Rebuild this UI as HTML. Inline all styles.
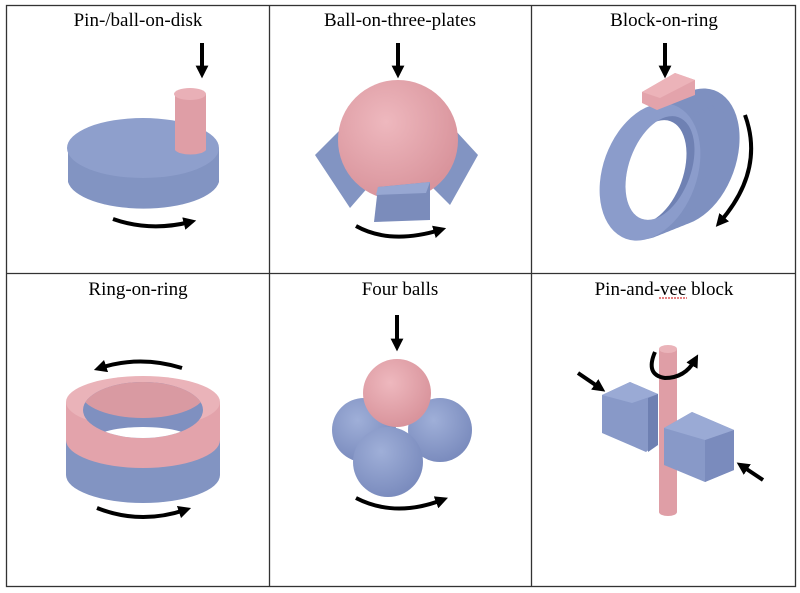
<!DOCTYPE html>
<html><head><style>
html,body{margin:0;padding:0;background:#fff;width:800px;height:593px;overflow:hidden}
svg text{font-family:"Liberation Serif",serif;font-size:19px;fill:#000}
</style></head><body>
<svg width="800" height="593" viewBox="0 0 800 593" xmlns="http://www.w3.org/2000/svg">
<defs>
<marker id="ah" viewBox="0 0 10 10" refX="5" refY="5" markerWidth="3.2" markerHeight="3.2" orient="auto"><path d="M0,0 L10,5 L0,10 z" fill="#000"/></marker>
<radialGradient id="pk" cx="40%" cy="35%" r="65%"><stop offset="0" stop-color="#eeb8be"/><stop offset="1" stop-color="#d9949c"/></radialGradient>
<radialGradient id="bl" cx="40%" cy="35%" r="65%"><stop offset="0" stop-color="#9fafd8"/><stop offset="1" stop-color="#7b8cbe"/></radialGradient>
<clipPath id="hole"><ellipse cx="143" cy="410" rx="60" ry="28"/></clipPath>
<clipPath id="fh"><ellipse cx="660" cy="168" rx="31" ry="54" transform="rotate(20 660 168)"/></clipPath>
</defs>
<rect x="6.5" y="5.5" width="789" height="581" fill="none" stroke="#333" stroke-width="1.3"/>
<line x1="269.5" y1="5" x2="269.5" y2="587" stroke="#333" stroke-width="1.3"/>
<line x1="531.5" y1="5" x2="531.5" y2="587" stroke="#333" stroke-width="1.3"/>
<line x1="6" y1="273.5" x2="796" y2="273.5" stroke="#333" stroke-width="1.3"/>
<g text-anchor="middle">
<text x="138" y="26">Pin-/ball-on-disk</text>
<text x="400" y="26">Ball-on-three-plates</text>
<text x="664" y="26">Block-on-ring</text>
<text x="138" y="295">Ring-on-ring</text>
<text x="400" y="295">Four balls</text>
<text x="664" y="295">Pin-and-vee block</text>
</g>
<line x1="659" y1="298" x2="687" y2="298" stroke="#c00" stroke-width="1" stroke-dasharray="2,1"/>
<!-- Pin on disk -->
<path d="M68,148 L68,182 A76,30 0 0 0 219,182 L219,148 Z" fill="#8294c2"/>
<ellipse cx="143" cy="148" rx="76" ry="30" fill="#8e9fcc"/>
<path d="M175,94 L175,150 A16,6 0 0 0 206,150 L206,94 Z" fill="#df9ea6"/>
<ellipse cx="190" cy="94" rx="16" ry="6" fill="#e9b0b7"/>
<line x1="202" y1="43" x2="202" y2="72" stroke="#000" stroke-width="4" marker-end="url(#ah)"/>
<path d="M113,219 Q150,232 190,222" fill="none" stroke="#000" stroke-width="4" marker-end="url(#ah)"/>
<!-- ball on three plates -->
<polygon points="315,155 340,130 370,185 350,208" fill="#8294c2"/>
<polygon points="455,130 478,155 450,205 430,185" fill="#8294c2"/>
<circle cx="398" cy="140" r="60" fill="url(#pk)"/>
<polygon points="378,187 430,182 430,220 374,222" fill="#7b8cbb"/>
<polygon points="378,187 430,182 426,193 376,195" fill="#97a7d2"/>
<line x1="398" y1="43" x2="398" y2="72" stroke="#000" stroke-width="4" marker-end="url(#ah)"/>
<path d="M356,226 Q390,245 440,230" fill="none" stroke="#000" stroke-width="4" marker-end="url(#ah)"/>
<!-- block on ring -->
<g fill="#7e90c0">
<ellipse cx="690" cy="157" rx="46" ry="71" transform="rotate(20 690 157)"/>
<ellipse cx="685" cy="159" rx="46" ry="71" transform="rotate(20 685 159)"/>
<ellipse cx="680" cy="161" rx="46" ry="71" transform="rotate(20 680 161)"/>
<ellipse cx="675" cy="163" rx="46" ry="71" transform="rotate(20 675 163)"/>
<ellipse cx="670" cy="165" rx="46" ry="71" transform="rotate(20 670 165)"/>
<ellipse cx="665" cy="167" rx="46" ry="71" transform="rotate(20 665 167)"/>
<ellipse cx="660" cy="169" rx="46" ry="71" transform="rotate(20 660 169)"/>
<ellipse cx="655" cy="171" rx="46" ry="71" transform="rotate(20 655 171)"/>
</g>
<ellipse cx="650" cy="172" rx="47" ry="71" transform="rotate(20 650 172)" fill="#8b9ccb"/>
<ellipse cx="660" cy="168" rx="31" ry="54" transform="rotate(20 660 168)" fill="#6f81b3"/>
<g clip-path="url(#fh)"><ellipse cx="652" cy="172" rx="31" ry="54" transform="rotate(20 652 172)" fill="#fff"/></g>
<polygon points="642,92 675,73 695,80 695,95 657,110 642,103" fill="#e3a3ab"/>
<polygon points="642,92 675,73 695,80 660,98" fill="#ecb3b9"/>
<line x1="665" y1="43" x2="665" y2="72" stroke="#000" stroke-width="4" marker-end="url(#ah)"/>
<path d="M745,115 Q765,170 720,222" fill="none" stroke="#000" stroke-width="4" marker-end="url(#ah)"/>
<!-- ring on ring -->
<path d="M66,440 L66,475 A77,28 0 0 0 220,475 L220,440 Z" fill="#8294c2"/>
<path d="M66,402 L66,440 A77,28 0 0 0 220,440 L220,402 Z" fill="#e3a3ab"/>
<ellipse cx="143" cy="402" rx="77" ry="26" fill="#eab3b9"/>
<g clip-path="url(#hole)">
<rect x="70" y="370" width="150" height="90" fill="#7f90c0"/>
<ellipse cx="143" cy="393" rx="62" ry="25" fill="#d99aa2"/>
<ellipse cx="143" cy="438" rx="46" ry="11" fill="#fff"/>
</g>
<path d="M182,368 Q140,355 100,368" fill="none" stroke="#000" stroke-width="4" marker-end="url(#ah)"/>
<path d="M97,508 Q140,525 185,510" fill="none" stroke="#000" stroke-width="4" marker-end="url(#ah)"/>
<!-- four balls -->
<circle cx="364" cy="430" r="32" fill="url(#bl)"/>
<circle cx="440" cy="430" r="32" fill="url(#bl)"/>
<circle cx="388" cy="462" r="35" fill="url(#bl)"/>
<circle cx="397" cy="393" r="34" fill="url(#pk)"/>
<line x1="397" y1="315" x2="397" y2="345" stroke="#000" stroke-width="4" marker-end="url(#ah)"/>
<path d="M356,498 Q395,518 442,500" fill="none" stroke="#000" stroke-width="4" marker-end="url(#ah)"/>
<!-- pin and vee -->
<polygon points="602,395 630,382 658,394 655,445 646,452 602,433" fill="#8899c8"/>
<polygon points="602,395 630,382 658,394 632,403" fill="#9aaad5"/>
<polygon points="648,398 658,394 658,445 648,452" fill="#6e80b2"/>
<path d="M659,349 L659,512 A9,4 0 0 0 677,512 L677,349 Z" fill="#df9ea6"/>
<ellipse cx="668" cy="349" rx="9" ry="4" fill="#eab3b9"/>
<polygon points="664,428 692,412 734,430 734,470 705,482 664,465" fill="#8899c8"/>
<polygon points="705,440 734,430 734,470 705,482" fill="#7a8bbd"/>
<polygon points="664,428 692,412 734,430 705,440" fill="#9aaad5"/>
<path d="M655,352 Q645,375 665,378 Q685,378 695,360" fill="none" stroke="#000" stroke-width="4" marker-end="url(#ah)"/>
<line x1="578" y1="373" x2="600" y2="388" stroke="#000" stroke-width="4" marker-end="url(#ah)"/>
<line x1="763" y1="480" x2="742" y2="466" stroke="#000" stroke-width="4" marker-end="url(#ah)"/>
</svg>
</body></html>
